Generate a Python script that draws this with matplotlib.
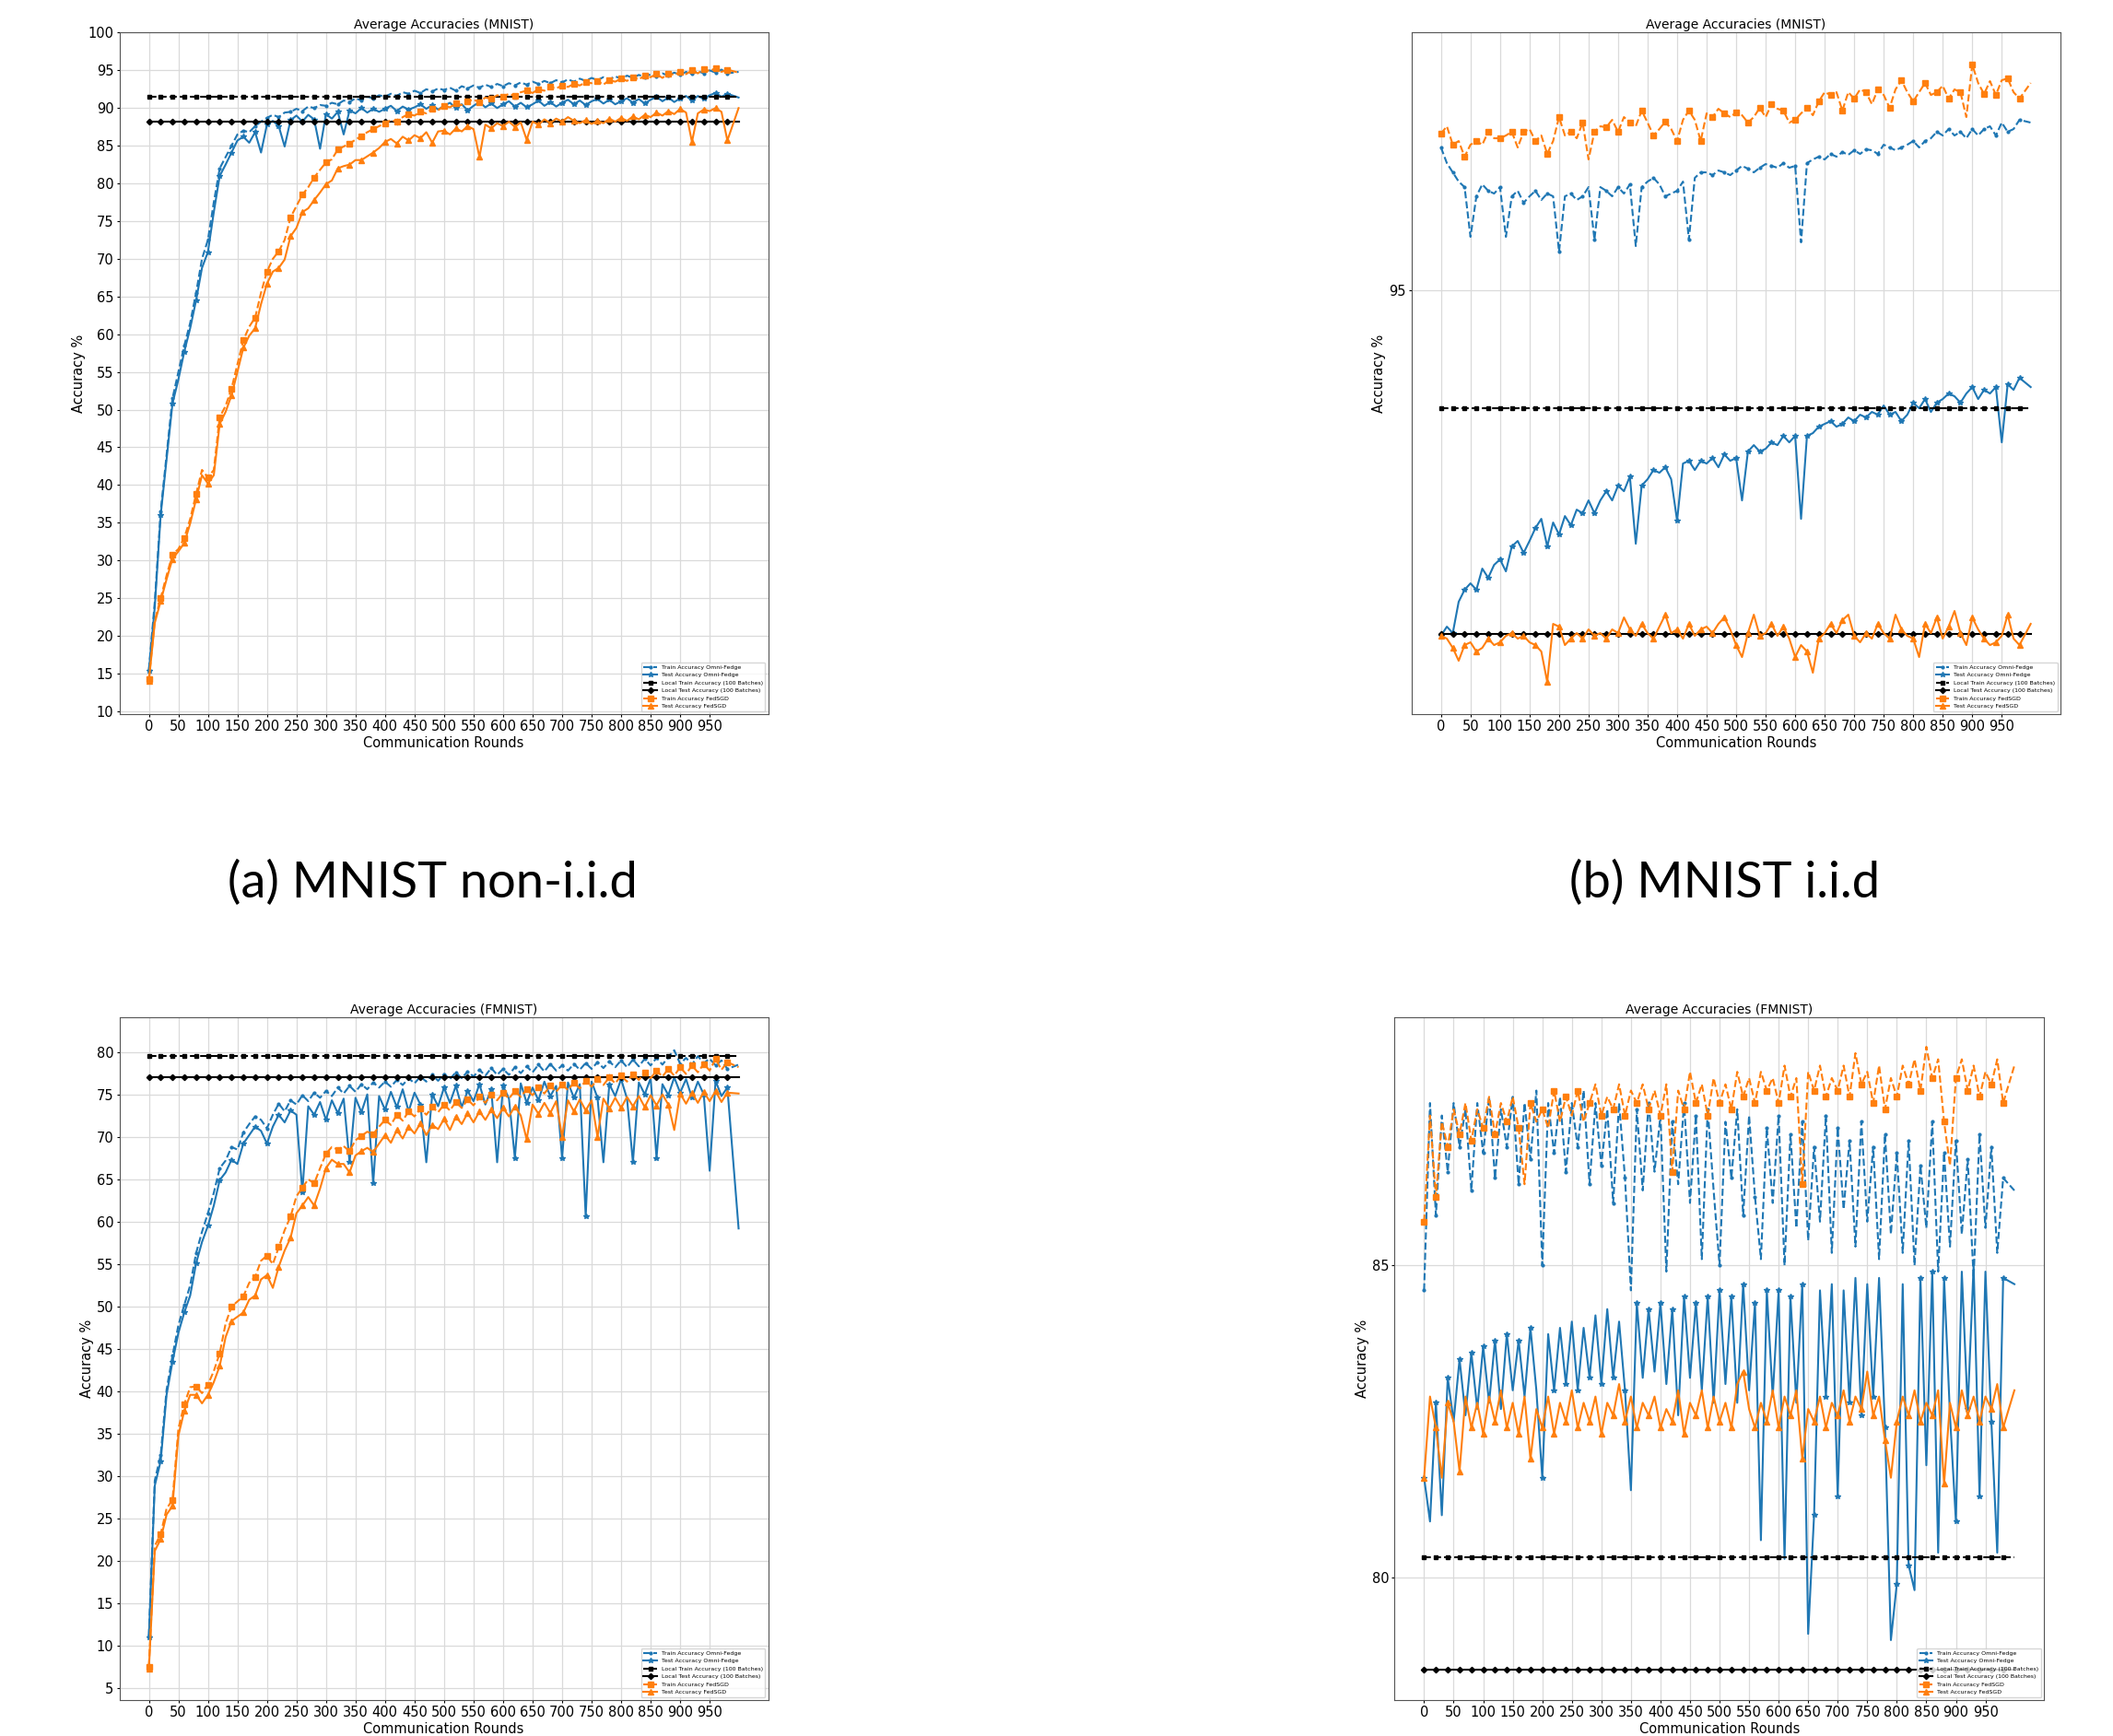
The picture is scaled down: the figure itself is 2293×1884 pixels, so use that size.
import numpy as np
import matplotlib
matplotlib.use('Agg')
import matplotlib.pyplot as plt

rounds = np.arange(0, 1000, 10)
rounds[-1] = 999

labels = ['Train Accuracy Omni-Fedge', 'Test Accuracy Omni-Fedge',
          'Local Train Accuracy (100 Batches)', 'Local Test Accuracy (100 Batches)',
          'Train Accuracy FedSGD', 'Test Accuracy FedSGD']

# (a) MNIST non-i.i.d
a_train_omni = [15.5, 24.5, 36.5, 44.0, 51.5, 55.0, 58.5, 61.5, 65.5, 70.0,
                72.5, 77.5, 82.0, 83.5, 85.0, 86.5, 87.0, 86.8, 87.6, 88.2,
                88.7, 89.1, 88.8, 89.4, 89.5, 89.9, 89.6, 90.2, 90.0, 90.4,
                90.3, 90.7, 90.5, 91.0, 90.8, 91.3, 91.0, 91.5, 91.3, 91.7,
                91.5, 91.9, 91.6, 92.1, 91.9, 92.3, 92.0, 92.5, 92.2, 92.6,
                92.4, 92.7, 92.3, 92.9, 92.6, 93.0, 92.7, 93.1, 92.8, 93.2,
                92.9, 93.3, 93.0, 93.4, 93.1, 93.5, 93.2, 93.6, 93.3, 93.7,
                93.4, 93.8, 93.5, 93.9, 93.6, 94.0, 93.7, 94.1, 93.8, 94.2,
                93.9, 94.3, 94.0, 94.4, 94.1, 94.5, 94.2, 94.6, 94.3, 94.7,
                94.4, 94.8, 94.5, 94.9, 94.6, 95.0, 94.7, 95.1, 94.6, 94.8]
a_test_omni = [15.3, 23.8, 36.0, 43.4, 50.8, 54.0, 57.7, 60.8, 64.5, 68.8,
               70.9, 76.2, 81.0, 82.5, 84.1, 85.7, 86.2, 85.4, 86.8, 84.1,
               87.8, 88.3, 87.6, 84.9, 88.4, 89.0, 88.2, 89.1, 88.5, 84.6,
               89.2, 88.6, 89.5, 86.5, 89.7, 89.3, 90.0, 89.4, 89.9, 89.5,
               89.9, 90.3, 89.6, 90.2, 89.8, 90.1, 90.5, 89.9, 90.4, 89.8,
               90.3, 90.7, 90.0, 90.5, 89.7, 90.3, 90.8, 90.1, 90.6, 90.0,
               90.5, 90.9, 90.2, 90.7, 90.1, 90.5, 91.0, 90.3, 90.8, 90.2,
               90.7, 91.1, 90.5, 91.0, 90.4, 90.9, 91.2, 90.6, 91.1, 90.5,
               90.9, 91.3, 90.7, 91.2, 90.6, 91.1, 91.5, 90.9, 91.4, 90.8,
               91.3, 91.6, 91.0, 91.6, 91.2, 91.7, 92.0, 91.5, 91.9, 91.4]
a_local_train = 91.45
a_local_test = 88.2
a_train_fed = [14.2, 22.0, 25.0, 28.0, 30.8, 31.5, 33.0, 35.5, 38.8, 42.0,
               41.0, 42.0, 49.0, 50.5, 52.8, 56.0, 59.2, 61.0, 62.2, 65.5,
               68.3, 70.0, 71.0, 72.5, 75.5, 77.0, 78.5, 79.5, 80.8, 81.8,
               82.8, 83.2, 84.5, 84.9, 85.3, 85.8, 86.3, 86.8, 87.2, 87.6,
               88.0, 88.4, 88.2, 88.8, 89.2, 89.0, 89.5, 89.3, 89.9, 89.7,
               90.3, 90.1, 90.6, 90.4, 90.9, 91.1, 90.8, 91.4, 91.2, 91.7,
               91.5, 91.9, 91.6, 92.1, 92.3, 92.0, 92.5, 92.3, 92.8, 92.6,
               93.0, 92.8, 93.2, 93.0, 93.4, 93.3, 93.6, 93.1, 93.7, 93.5,
               93.9, 93.6, 94.1, 93.8, 94.3, 94.1, 94.5, 94.0, 94.6, 94.4,
               94.8, 94.5, 95.0, 94.6, 95.2, 94.9, 95.3, 94.8, 95.1, 94.7]
a_test_fed = [14.0, 21.7, 24.6, 27.5, 30.2, 31.2, 32.3, 34.9, 38.1, 41.3,
              40.2, 41.3, 48.1, 49.7, 51.9, 55.0, 58.2, 59.8, 60.8, 64.0,
              66.7, 68.3, 68.8, 69.9, 73.0, 74.1, 76.2, 76.7, 77.8, 78.8,
              79.9, 80.4, 82.0, 82.3, 82.5, 83.1, 83.1, 83.6, 84.1, 84.7,
              85.5, 85.9, 85.3, 86.2, 85.7, 86.4, 86.0, 86.8, 85.4, 86.9,
              87.0, 86.5, 87.3, 86.9, 87.6, 87.2, 83.5, 87.8, 87.3, 88.0,
              87.6, 88.2, 87.5, 88.1, 85.8, 88.2, 87.8, 88.5, 88.0, 88.6,
              88.2, 88.8, 88.3, 88.0, 88.4, 87.9, 88.3, 88.0, 88.6, 88.2,
              88.7, 88.3, 88.9, 88.5, 89.1, 88.8, 89.4, 89.0, 89.6, 89.2,
              89.9, 89.4, 85.5, 89.3, 89.8, 89.6, 90.0, 89.5, 85.7, 90.0]

# (b) MNIST i.i.d
b_train_omni = [96.55, 96.38, 96.28, 96.18, 96.12, 95.58, 96.02, 96.15, 96.08, 96.05,
                96.12, 95.58, 96.02, 96.08, 95.95, 96.02, 96.08, 95.98, 96.05, 96.02,
                95.42, 96.02, 96.05, 95.98, 96.02, 96.12, 95.55, 96.12, 96.08, 96.02,
                96.12, 96.05, 96.15, 95.48, 96.12, 96.18, 96.22, 96.15, 96.02, 96.05,
                96.08, 96.18, 95.55, 96.22, 96.28, 96.28, 96.25, 96.30, 96.28, 96.25,
                96.30, 96.35, 96.32, 96.28, 96.33, 96.37, 96.35, 96.33, 96.38, 96.33,
                96.35, 95.52, 96.38, 96.42, 96.45, 96.42, 96.48, 96.45, 96.50, 96.47,
                96.52, 96.48, 96.53, 96.52, 96.48, 96.58, 96.55, 96.52, 96.55, 96.58,
                96.62, 96.55, 96.62, 96.65, 96.72, 96.68, 96.75, 96.68, 96.72, 96.65,
                96.75, 96.68, 96.75, 96.78, 96.68, 96.82, 96.72, 96.75, 96.85, 96.82]
b_test_omni = [91.25, 91.35, 91.28, 91.62, 91.75, 91.82, 91.75, 91.98, 91.88, 92.02,
               92.08, 91.95, 92.22, 92.28, 92.15, 92.28, 92.42, 92.52, 92.22, 92.48,
               92.35, 92.55, 92.45, 92.62, 92.58, 92.72, 92.58, 92.72, 92.82, 92.72,
               92.88, 92.82, 92.98, 92.25, 92.88, 92.95, 93.05, 93.02, 93.08, 92.95,
               92.50, 93.12, 93.15, 93.05, 93.15, 93.12, 93.18, 93.08, 93.22, 93.15,
               93.18, 92.72, 93.25, 93.32, 93.25, 93.28, 93.35, 93.32, 93.42, 93.35,
               93.42, 92.52, 93.42, 93.45, 93.52, 93.55, 93.58, 93.52, 93.55, 93.62,
               93.58, 93.65, 93.62, 93.68, 93.65, 93.75, 93.65, 93.68, 93.58, 93.65,
               93.78, 93.72, 93.82, 93.68, 93.78, 93.82, 93.88, 93.85, 93.78, 93.88,
               93.95, 93.82, 93.92, 93.88, 93.95, 93.35, 93.98, 93.92, 94.05, 93.95]
b_local_train = 93.72
b_local_test = 91.27
b_train_fed = [96.70, 96.78, 96.58, 96.62, 96.45, 96.58, 96.62, 96.58, 96.72, 96.65,
               96.65, 96.68, 96.72, 96.55, 96.72, 96.75, 96.62, 96.68, 96.48, 96.62,
               96.88, 96.68, 96.72, 96.65, 96.82, 96.42, 96.72, 96.78, 96.77, 96.85,
               96.72, 96.88, 96.82, 96.78, 96.95, 96.82, 96.68, 96.75, 96.83, 96.75,
               96.62, 96.85, 96.95, 96.85, 96.62, 96.92, 96.88, 96.97, 96.92, 96.88,
               96.93, 96.90, 96.82, 96.88, 96.98, 96.88, 97.02, 96.97, 96.95, 96.82,
               96.85, 96.92, 96.98, 96.90, 97.05, 97.15, 97.12, 97.15, 96.95, 97.15,
               97.08, 97.18, 97.15, 97.02, 97.18, 97.12, 96.98, 97.18, 97.28, 97.15,
               97.05, 97.15, 97.25, 97.12, 97.15, 97.22, 97.08, 97.18, 97.15, 96.88,
               97.45, 97.25, 97.13, 97.27, 97.12, 97.28, 97.30, 97.15, 97.08, 97.25]
b_test_fed = [91.25, 91.22, 91.12, 90.98, 91.15, 91.18, 91.08, 91.12, 91.22, 91.15,
              91.18, 91.25, 91.28, 91.22, 91.25, 91.18, 91.15, 91.08, 90.75, 91.38,
              91.35, 91.15, 91.22, 91.28, 91.22, 91.32, 91.25, 91.28, 91.22, 91.32,
              91.28, 91.45, 91.32, 91.25, 91.38, 91.28, 91.22, 91.35, 91.48, 91.28,
              91.32, 91.22, 91.38, 91.25, 91.32, 91.35, 91.28, 91.38, 91.45, 91.32,
              91.15, 91.02, 91.28, 91.48, 91.25, 91.28, 91.38, 91.25, 91.35, 91.22,
              91.02, 91.15, 91.08, 90.85, 91.22, 91.28, 91.38, 91.28, 91.42, 91.48,
              91.25, 91.18, 91.28, 91.22, 91.38, 91.28, 91.22, 91.48, 91.32, 91.25,
              91.22, 91.02, 91.38, 91.28, 91.45, 91.22, 91.35, 91.52, 91.28, 91.15,
              91.45, 91.32, 91.22, 91.15, 91.18, 91.25, 91.48, 91.22, 91.15, 91.38]

# (c) FMNIST non-i.i.d
c_train_omni = [11.2, 29.5, 32.5, 40.2, 44.2, 47.8, 50.2, 52.5, 56.3, 58.8,
                61.0, 63.4, 66.3, 67.2, 68.8, 68.5, 70.5, 71.5, 72.4, 72.0,
                71.0, 72.6, 73.9, 73.0, 74.3, 73.8, 74.9, 74.2, 75.2, 74.6,
                75.4, 74.8, 75.8, 75.1, 76.0, 75.3, 76.2, 75.6, 76.4, 75.8,
                76.5, 75.9, 76.7, 76.1, 76.9, 76.3, 77.1, 76.5, 77.3, 76.6,
                77.4, 76.8, 77.6, 76.9, 77.7, 77.1, 77.9, 77.2, 78.1, 77.3,
                78.0, 77.3, 78.2, 77.5, 78.3, 77.6, 78.5, 77.7, 78.6, 77.8,
                78.4, 77.8, 78.6, 77.9, 78.7, 78.0, 78.8, 78.1, 78.9, 78.2,
                79.0, 78.2, 79.1, 78.3, 79.2, 78.4, 79.3, 78.5, 79.4, 80.2,
                78.6, 79.3, 78.5, 79.5, 78.7, 79.2, 78.4, 79.0, 78.0, 78.5]
c_test_omni = [11.0, 28.9, 31.8, 39.6, 43.5, 46.9, 49.3, 51.3, 55.1, 57.6,
               59.5, 61.9, 64.9, 65.8, 67.3, 66.8, 69.2, 70.2, 71.2, 70.7,
               69.2, 71.2, 72.6, 71.7, 73.1, 72.6, 63.5, 73.6, 72.6, 74.1,
               72.0, 74.3, 72.8, 74.5, 67.0, 74.6, 72.9, 75.0, 64.5, 74.8,
               73.2, 75.3, 73.5, 75.6, 73.0, 75.2, 73.8, 67.0, 75.0, 73.6,
               75.8, 74.0, 76.0, 73.5, 75.4, 74.2, 76.2, 73.8, 75.6, 67.0,
               76.0, 74.5, 67.5, 76.3, 74.0, 75.8, 74.3, 76.5, 74.8, 76.0,
               67.5, 76.4, 74.6, 76.2, 60.6, 76.5, 74.6, 67.0, 76.2, 74.8,
               76.8, 74.5, 67.0, 76.4, 75.0, 76.9, 67.5, 76.2, 74.9, 77.0,
               75.2, 76.8, 74.6, 76.5, 75.0, 66.0, 76.6, 74.8, 75.8, 59.2]
c_local_train = 79.53
c_local_test = 77.0
c_train_fed = [7.6, 21.8, 23.2, 26.2, 27.2, 35.6, 38.5, 40.5, 40.6, 39.8,
               40.8, 42.4, 44.5, 48.0, 50.0, 50.6, 51.2, 52.8, 53.5, 55.4,
               56.0, 55.0, 57.0, 59.0, 60.6, 63.0, 64.0, 65.0, 64.5, 66.3,
               68.0, 68.8, 68.5, 68.9, 68.3, 69.6, 70.1, 70.6, 70.3, 71.2,
               72.0, 71.4, 72.6, 71.9, 73.0, 72.4, 73.3, 72.6, 73.5, 72.9,
               73.8, 73.1, 74.1, 73.4, 74.4, 73.7, 74.7, 74.0, 75.0, 74.3,
               75.2, 74.5, 75.4, 74.7, 75.6, 74.9, 75.8, 75.1, 76.0, 75.3,
               76.2, 75.5, 76.4, 75.7, 76.6, 75.9, 76.8, 76.1, 77.0, 76.3,
               77.2, 76.5, 77.4, 76.7, 77.6, 76.9, 77.8, 77.1, 78.0, 77.2,
               78.2, 77.4, 78.4, 77.6, 78.6, 77.8, 79.2, 77.9, 78.8, 78.2]
c_test_fed = [7.3, 21.2, 22.6, 25.5, 26.5, 34.8, 37.7, 39.6, 39.6, 38.6,
              39.6, 41.1, 43.0, 46.4, 48.3, 48.8, 49.3, 50.8, 51.3, 53.2,
              53.7, 52.2, 54.7, 56.6, 58.1, 61.0, 61.9, 62.9, 61.9, 63.9,
              66.3, 67.3, 66.8, 66.8, 65.8, 67.8, 68.3, 68.7, 68.2, 69.2,
              70.2, 69.3, 70.8, 69.8, 71.2, 70.4, 71.6, 70.2, 71.4, 70.9,
              72.1, 70.8, 72.4, 71.5, 72.8, 71.7, 73.0, 72.0, 73.2, 72.2,
              73.4, 72.4, 73.6, 72.5, 69.7, 73.8, 72.7, 74.0, 72.8, 74.2,
              70.0, 74.3, 73.0, 74.4, 73.1, 74.3, 70.0, 74.5, 73.3, 74.6,
              73.4, 74.7, 73.6, 74.8, 73.5, 74.9, 73.7, 75.0, 73.8, 70.8,
              75.1, 73.9, 75.2, 74.0, 75.3, 74.2, 75.4, 74.1, 75.2, 75.1]

# (d) FMNIST i.i.d
d_train_omni = [84.6, 87.6, 85.8, 87.4, 86.5, 87.6, 86.9, 87.5, 86.2, 87.6,
                86.8, 87.7, 86.4, 87.5, 86.9, 87.7, 86.3, 87.6, 86.7, 87.8,
                85.0, 87.6, 86.8, 87.7, 86.5, 87.6, 86.9, 87.8, 86.3, 87.6,
                86.6, 87.5, 86.0, 87.6, 86.4, 84.6, 87.5, 86.2, 87.6, 86.5,
                87.4, 84.9, 87.3, 86.3, 87.6, 86.0, 87.4, 85.1, 87.5, 86.2,
                85.0, 87.3, 86.4, 87.5, 85.8, 87.4, 86.1, 85.1, 87.2, 86.0,
                87.4, 85.0, 87.1, 85.6, 87.3, 85.4, 86.9, 85.7, 87.4, 85.2,
                87.2, 85.9, 87.0, 85.3, 87.3, 85.7, 86.9, 85.1, 87.1, 85.5,
                86.8, 85.2, 87.0, 85.0, 86.6, 85.6, 87.3, 84.9, 86.8, 85.3,
                87.0, 85.5, 86.7, 84.8, 87.1, 85.6, 86.9, 85.2, 86.4, 86.2]
d_test_omni = [81.6, 80.9, 82.8, 81.0, 83.2, 82.5, 83.5, 82.6, 83.6, 82.7,
               83.7, 82.8, 83.8, 82.7, 83.9, 83.0, 83.8, 82.9, 84.0, 83.0,
               81.6, 83.9, 83.0, 84.0, 83.1, 84.1, 83.0, 84.0, 83.2, 84.2,
               83.1, 84.3, 83.2, 84.1, 83.0, 81.4, 84.4, 83.2, 84.3, 83.3,
               84.4, 83.1, 84.3, 82.6, 84.5, 83.2, 84.4, 83.0, 84.5, 82.8,
               84.6, 83.1, 84.5, 82.8, 84.7, 83.0, 84.4, 80.6, 84.6, 82.9,
               84.6, 80.3, 84.5, 82.8, 84.7, 79.1, 81.0, 84.6, 82.9, 84.7,
               81.3, 84.6, 82.8, 84.8, 82.6, 84.7, 82.9, 84.8, 82.4, 79.0,
               79.9, 84.7, 80.2, 79.8, 84.8, 81.8, 84.9, 80.4, 84.8, 82.6,
               80.9, 84.9, 82.7, 85.0, 81.3, 84.9, 82.5, 80.4, 84.8, 84.7]
d_local_train = 80.33
d_local_test = 78.53
d_train_fed = [85.7, 87.4, 86.1, 87.3, 86.9, 87.5, 87.1, 87.6, 87.0, 87.5,
               87.2, 87.7, 87.1, 87.6, 87.3, 87.7, 87.2, 86.3, 87.6, 87.3,
               87.5, 87.2, 87.8, 87.3, 87.7, 87.4, 87.8, 87.3, 87.6, 87.9,
               87.4, 87.7, 87.5, 87.9, 87.4, 87.8, 87.6, 87.9, 87.5, 87.8,
               87.4, 87.9, 86.5, 87.8, 87.5, 88.1, 87.6, 87.9, 87.4, 88.0,
               87.6, 87.9, 87.5, 88.1, 87.7, 88.0, 87.6, 88.1, 87.8, 88.0,
               87.6, 88.2, 87.7, 88.0, 86.3, 88.1, 87.8, 88.2, 87.7, 88.0,
               87.8, 88.2, 87.7, 88.4, 87.9, 88.1, 87.6, 88.2, 87.5, 88.0,
               87.7, 88.2, 87.9, 88.3, 87.8, 88.5, 88.0, 88.3, 87.3, 86.6,
               88.0, 88.3, 87.8, 88.2, 87.7, 88.1, 87.9, 88.3, 87.6, 88.2]
d_test_fed = [81.6, 82.9, 82.4, 81.6, 82.8, 82.5, 81.7, 82.9, 82.4, 82.8,
              82.3, 82.9, 82.5, 83.0, 82.4, 82.8, 82.3, 82.9, 81.9, 82.7,
              82.4, 82.9, 82.3, 82.8, 82.5, 83.0, 82.4, 82.8, 82.5, 82.9,
              82.3, 82.8, 82.6, 83.1, 82.5, 82.9, 82.4, 82.8, 82.6, 82.9,
              82.4, 82.7, 82.5, 83.0, 82.3, 82.8, 82.6, 83.0, 82.4, 82.9,
              82.5, 82.8, 82.4, 83.1, 83.3, 82.7, 82.4, 82.8, 82.5, 83.0,
              82.4, 82.9, 82.6, 83.0, 81.9, 82.7, 82.5, 82.9, 82.4, 82.8,
              82.6, 83.0, 82.5, 82.9, 82.7, 83.3, 82.6, 82.9, 82.2, 81.6,
              82.5, 82.9, 82.6, 83.0, 82.5, 82.8, 82.6, 83.0, 81.5, 82.8,
              82.4, 83.0, 82.6, 82.9, 82.5, 82.9, 82.7, 83.1, 82.4, 83.0]

BLUE = '#1f77b4'
ORANGE = '#ff7f0e'


def draw_panel(ax, title, train_omni, test_omni, local_train, local_test,
               train_fed, test_fed, ylim):
    for s in (train_omni, test_omni, train_fed, test_fed):
        assert len(s) == len(rounds), len(s)
    kw = dict(lw=1.5, markevery=2, markersize=4)
    ax.plot(rounds, train_omni, '--', marker='.', color=BLUE, label=labels[0], **kw)
    ax.plot(rounds, test_omni, '-', marker='*', color=BLUE, label=labels[1], **kw)
    ax.plot(rounds, np.full(len(rounds), local_train), '--', marker='s',
            color='black', label=labels[2], lw=1.5, markevery=2, markersize=3.2)
    ax.plot(rounds, np.full(len(rounds), local_test), '-', marker='D',
            color='black', label=labels[3], lw=1.5, markevery=2, markersize=3.2)
    ax.plot(rounds, train_fed, '--', marker='s', color=ORANGE, label=labels[4], **kw)
    ax.plot(rounds, test_fed, '-', marker='^', color=ORANGE, label=labels[5], **kw)

    ax.set_xticks(np.arange(0, 1000, 50))
    ax.set_yticks(np.arange(0, 101, 5))
    ax.set_xlim(-49.95, 1048.95)
    ax.set_ylim(*ylim)
    ax.tick_params(labelsize=10.5, length=2, pad=2.5)
    ax.grid(True, color='#dadada', lw=0.9)
    ax.set_axisbelow(True)
    for sp in ax.spines.values():
        sp.set_color('#555555')
    ax.set_title(title, fontsize=10, pad=3)
    ax.set_xlabel('Communication Rounds', fontsize=10.5, labelpad=2)
    ax.set_ylabel('Accuracy %', fontsize=10.5, labelpad=2)
    ax.legend(loc='lower right', fontsize=4.5, handlelength=2.3)


fig = plt.figure(figsize=(22.93, 18.84), dpi=100)

ax_a = fig.add_axes([0.0565, 0.5886, 0.3070, 0.3928])
ax_b = fig.add_axes([0.6680, 0.5886, 0.3070, 0.3928])
ax_c = fig.add_axes([0.0565, 0.0207, 0.3070, 0.3932])
ax_d = fig.add_axes([0.6600, 0.0207, 0.3073, 0.3932])

draw_panel(ax_a, 'Average Accuracies (MNIST)', a_train_omni, a_test_omni,
           a_local_train, a_local_test, a_train_fed, a_test_fed, (9.6, 100.05))
draw_panel(ax_b, 'Average Accuracies (MNIST)', b_train_omni, b_test_omni,
           b_local_train, b_local_test, b_train_fed, b_test_fed, (90.4, 97.8))
draw_panel(ax_c, 'Average Accuracies (FMNIST)', c_train_omni, c_test_omni,
           c_local_train, c_local_test, c_train_fed, c_test_fed, (3.64, 84.06))
draw_panel(ax_d, 'Average Accuracies (FMNIST)', d_train_omni, d_test_omni,
           d_local_train, d_local_test, d_train_fed, d_test_fed, (78.04, 88.97))

fig.text(0.2048, 0.4915, '(a) MNIST non-i.i.d', ha='center', va='center',
         family=['Lato', 'DejaVu Sans'], fontweight='normal', fontsize=39)
fig.text(0.8164, 0.4915, '(b) MNIST i.i.d', ha='center', va='center',
         family=['Lato', 'DejaVu Sans'], fontweight='normal', fontsize=39)

fig.savefig('out.png', dpi=100)
